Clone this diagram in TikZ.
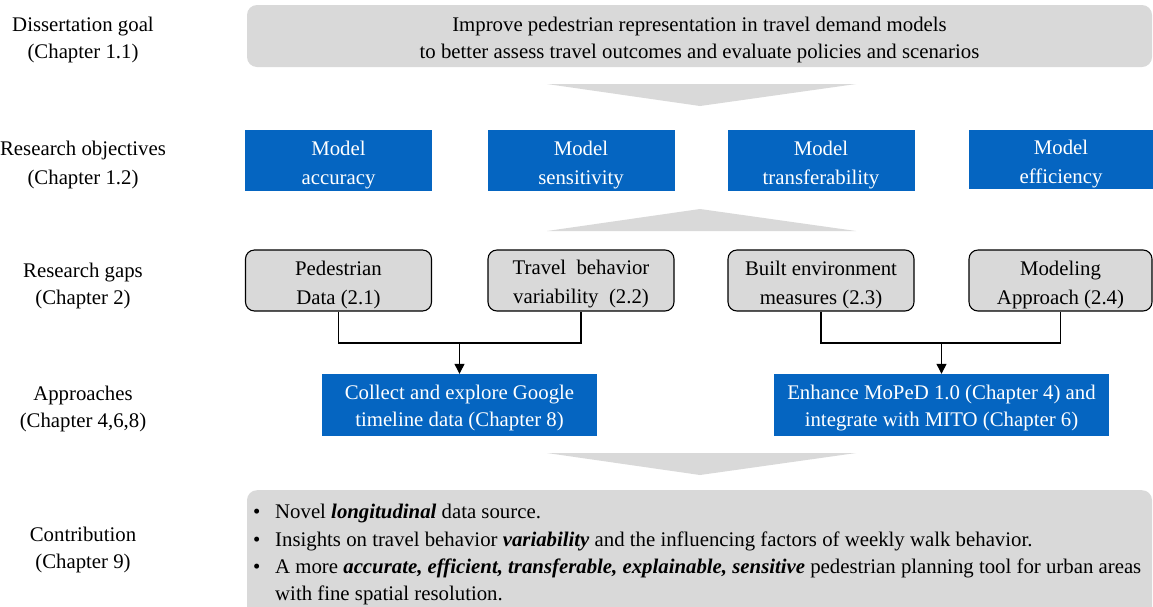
\documentclass[tikz,border=0pt]{standalone}
\usepackage{fontspec}
\setmainfont{Liberation Serif}
\usetikzlibrary{arrows.meta,calc}
\definecolor{mblue}{RGB}{5,101,193}
\definecolor{boxgray}{RGB}{217,217,217}
\definecolor{chevgray}{RGB}{217,217,217}
\tikzset{
  txt/.style={align=center,inner sep=0pt},
  lbl/.style={txt,font=\fontsize{20.8}{27}\selectfont},
  lblwide/.style={txt,font=\fontsize{20.8}{29}\selectfont},
  goalbox/.style={rounded corners=10pt,fill=boxgray,draw=none},
  goaltext/.style={txt,font=\fontsize{20.8}{27}\selectfont},
  objbox/.style={fill=mblue,draw=none,inner sep=0pt,
    minimum width=187pt,minimum height=61pt},
  objtext/.style={txt,text=white,font=\fontsize{20.8}{29}\selectfont},
  gapbox/.style={rounded corners=9pt,fill=boxgray,draw=black,line width=1.1pt,
    inner sep=0pt,minimum width=186pt,minimum height=61pt},
  gaptext/.style={txt,font=\fontsize{20.8}{29}\selectfont},
  appbox/.style={fill=mblue,draw=none,inner sep=0pt,minimum height=62pt},
  apptext/.style={txt,text=white,font=\fontsize{20.8}{27}\selectfont},
  chev/.style={fill=chevgray,draw=none},
  link/.style={draw=black,line width=1.2pt},
  linkarrow/.style={link,-{Triangle[length=10pt,width=10pt]}},
}
\begin{document}
\begin{tikzpicture}[x=1pt,y=-1pt]
\clip (0,0) rectangle (1153,606);
\fill[white] (0,0) rectangle (1153,606);

% row labels
\node[lbl] (l1) at (83,39.5) {Dissertation goal\\(Chapter 1.1)};
\node[lblwide] (l2) at (83,164.5) {Research objectives\\(Chapter 1.2)};
\node[lbl] (l3) at (83,285.5) {Research gaps\\(Chapter 2)};
\node[lbl] (l4) at (83,408.5) {Approaches\\(Chapter 4,6,8)};
\node[lbl] (l5) at (83,549.5) {Contribution\\(Chapter 9)};

% goal
\node[goalbox,minimum width=905pt,minimum height=62pt] (goal) at (699.5,36) {};
\node[goaltext] (goalt) at ($(goal.center)+(0,3.5)$)
  {Improve pedestrian representation in travel demand models\\
   to better assess travel outcomes and evaluate policies and scenarios};

% chevrons between rows
\fill[chev] (547,84) -- (856,84) -- (700,106) -- cycle;
\fill[chev] (547,231) -- (856,231) -- (700,209) -- cycle;
\fill[chev] (547,453) -- (856,453) -- (700,475) -- cycle;

% research objectives
\node[objbox] (o1) at (338.5,160.5) {};
\node[objbox] (o2) at (581,160.5) {};
\node[objbox] (o3) at (821,160.5) {};
\node[objbox,minimum width=184pt,minimum height=59pt] (o4) at (1061,159.5) {};
\node[objtext] (o1t) at ($(o1.center)+(0,4.5)$) {Model\\accuracy};
\node[objtext] (o2t) at ($(o2.center)+(0,4.5)$) {Model\\sensitivity};
\node[objtext] (o3t) at ($(o3.center)+(0,4.5)$) {Model\\transferability};
\node[objtext] (o4t) at ($(o4.center)+(0,5)$) {Model\\efficiency};

% research gaps
\node[gapbox] (g1) at (338.5,280.5) {};
\node[gapbox] (g2) at (581,280.5) {};
\node[gapbox] (g3) at (821,280.5) {};
\node[gapbox,minimum width=183pt] (g4) at (1060.5,280.5) {};
\node[gaptext] (g1t) at ($(g1.center)+(0,4)$) {Pedestrian\\Data (2.1)};
\node[gaptext] (g2t) at ($(g2.center)+(0,4)$) {Travel\ \ behavior\\variability\ \ (2.2)};
\node[gaptext] (g3t) at ($(g3.center)+(0,4)$) {Built environment\\measures (2.3)};
\node[gaptext] (g4t) at ($(g4.center)+(0,4)$) {Modeling\\Approach (2.4)};

% approaches
\node[appbox,minimum width=275pt] (a1) at (459.5,405) {};
\node[appbox,minimum width=335pt] (a2) at (941.5,405) {};
\node[apptext] (a1t) at ($(a1.center)+(0,3)$) {Collect and explore Google\\timeline data (Chapter 8)};
\node[apptext] (a2t) at ($(a2.center)+(0,3)$) {Enhance MoPeD 1.0 (Chapter 4) and\\integrate with MITO (Chapter 6)};

% connectors
\coordinate (j1) at (459.5,343);
\coordinate (j2) at (941.5,343);
\draw[link] (g1.south) |- (j1) -| (g2.south);
\draw[linkarrow] (j1) -- (a1.north);
\draw[link] (g3.south) |- (j2) -| (g4.south);
\draw[linkarrow] (j2) -- (a2.north);

% contribution
\node[goalbox,minimum width=905pt,minimum height=130pt,anchor=north] (contrib) at (699.5,490) {};
\node[anchor=north west,align=left,inner sep=0pt,font=\fontsize{20.8}{27.4}\selectfont] (ctext) at (253,504)
  {\makebox[22pt][l]{\textbullet}Novel \textbf{\textit{longitudinal}} data source.\\
   \makebox[22pt][l]{\textbullet}Insights on travel behavior \textbf{\textit{variability}} and the influencing factors of weekly walk behavior.\\
   \makebox[22pt][l]{\textbullet}A more \textbf{\textit{accurate, efficient, transferable, explainable, sensitive}} pedestrian planning tool for urban areas\\
   \hspace*{22pt}with fine spatial resolution.};
\end{tikzpicture}
\end{document}
